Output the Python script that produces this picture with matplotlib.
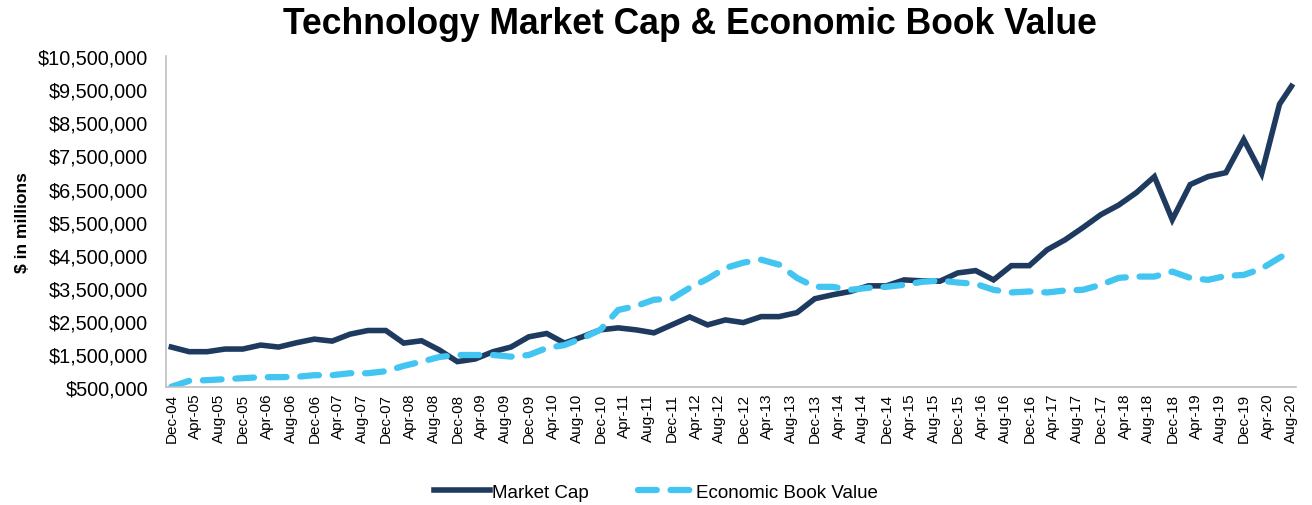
import matplotlib
matplotlib.use("Agg")
import matplotlib.pyplot as plt
from matplotlib.ticker import FuncFormatter
import pandas as pd

plt.rcParams['font.family'] = ['Liberation Sans', 'DejaVu Sans']

# quarter-end dates, last point is Aug-20
dates = list(pd.date_range("2004-12-01", "2020-06-01", freq="3MS")) + [pd.Timestamp("2020-08-01")]

# values in $ millions
market_cap = [1.71, 1.57, 1.57, 1.65, 1.65, 1.77, 1.71, 1.84, 1.95, 1.89,
              2.10, 2.21, 2.21, 1.83, 1.90, 1.62, 1.27, 1.35, 1.57, 1.71,
              2.02, 2.12, 1.83, 2.02, 2.23, 2.29, 2.23, 2.14, 2.38, 2.62,
              2.38, 2.53, 2.45, 2.63, 2.63, 2.75, 3.17, 3.29, 3.39, 3.56,
              3.56, 3.74, 3.71, 3.70, 3.95, 4.02, 3.74, 4.17, 4.17, 4.65,
              4.95, 5.32, 5.71, 6.00, 6.38, 6.86, 5.56, 6.62, 6.86, 6.98,
              7.98, 6.95, 9.05, 9.59]
book_value = [0.51, 0.69, 0.71, 0.74, 0.77, 0.80, 0.80, 0.81, 0.86, 0.86,
              0.92, 0.92, 0.98, 1.14, 1.27, 1.41, 1.47, 1.47, 1.47, 1.42,
              1.47, 1.68, 1.77, 1.98, 2.23, 2.83, 2.95, 3.14, 3.17, 3.50,
              3.77, 4.10, 4.26, 4.35, 4.20, 3.80, 3.53, 3.53, 3.44, 3.50,
              3.53, 3.59, 3.68, 3.72, 3.66, 3.62, 3.44, 3.36, 3.39, 3.36,
              3.42, 3.44, 3.59, 3.80, 3.84, 3.84, 3.99, 3.80, 3.74, 3.86,
              3.89, 4.08, 4.41, 4.60]
market_cap = [v * 1e6 for v in market_cap]
book_value = [v * 1e6 for v in book_value]

start = dates[0]
months = [(d.year - start.year) * 12 + d.month - start.month for d in dates]

tick_dates = pd.date_range("2004-12-01", "2020-08-01", freq="4MS")
tick_pos = [(d.year - start.year) * 12 + d.month - start.month for d in tick_dates]
tick_labels = [d.strftime("%b-%y") for d in tick_dates]

fig = plt.figure(figsize=(13.12, 5.06), dpi=100)
ax = fig.add_axes([0.1265, 0.233, 0.861, 0.654])

ax.plot(months, market_cap, color="#1f3a5f", lw=4.0, solid_joinstyle="miter",
        label="Market Cap")
ax.plot(months, book_value, color="#43c5f2", lw=4.5, dashes=(3.0, 2.2),
        dash_capstyle="round", label="Economic Book Value")

ax.set_xlim(-0.9, 188.7)
ax.set_ylim(500000, 10500000)
ax.set_yticks(range(500000, 10500001, 1000000))
ax.yaxis.set_major_formatter(FuncFormatter(lambda v, p: "${:,.0f}".format(v)))
ax.set_xticks(tick_pos)
ax.set_xticklabels(tick_labels, rotation=90, fontsize=11)
ax.tick_params(axis="y", labelsize=14.3, length=0, pad=13)
ax.tick_params(axis="x", length=0, pad=4)

for s in ["top", "right"]:
    ax.spines[s].set_visible(False)
for s in ["left", "bottom"]:
    ax.spines[s].set_color("#bfbfbf")
    ax.spines[s].set_linewidth(1.2)

ax.set_ylabel("$ in millions", fontsize=12.5, fontweight="bold")
ax.yaxis.set_label_coords(-0.12, 0.5)

fig.text(0.526, 0.952, "Technology Market Cap & Economic Book Value",
         ha="center", va="center", fontsize=25.6, fontweight="bold")

fig.legend(loc="center", bbox_to_anchor=(0.5, 0.025), ncol=2, frameon=False,
           fontsize=13.5, handlelength=3.0, handletextpad=0.1, columnspacing=2.6)

fig.savefig("out.png", dpi=100)
